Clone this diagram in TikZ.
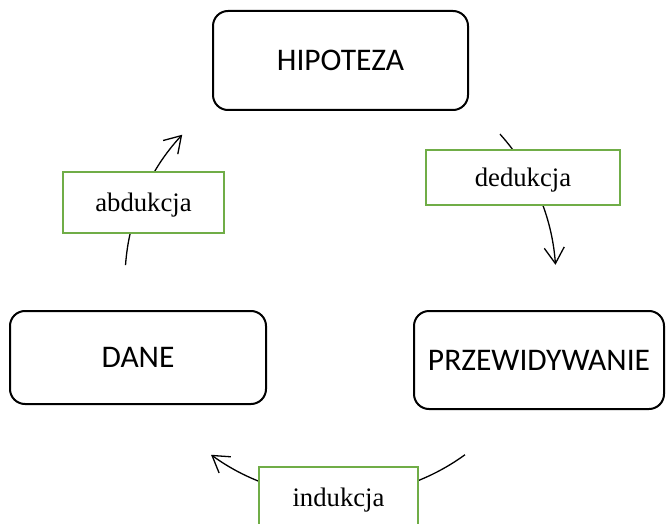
\documentclass[tikz,border=0pt]{standalone}
\usepackage{fontspec}
\setmainfont{Liberation Serif}
\newfontfamily\boxfont{Carlito}
\usetikzlibrary{arrows.meta}
\begin{document}
\begin{tikzpicture}[x=1pt,y=-1pt,
  mainbox/.style={draw=black,line width=2pt,rounded corners=15pt,fill=white,
    minimum width=#1,inner sep=0pt,font=\boxfont\fontsize{31.5}{34}\selectfont},
  labelbox/.style={draw=lgreen,line width=2.5pt,fill=white,inner sep=0pt,text depth=0pt,
    font=\fontsize{26.7}{30}\selectfont},
  cyc/.style={line width=1.3pt,-{Straight Barb[length=16pt,width=20pt,line width=1.3pt]}}]
\definecolor{lgreen}{RGB}{112,173,71}
\useasboundingbox (0,0) rectangle (666,524);
\coordinate (c) at (338,280);
% cycle arcs
\coordinate (d1) at ([shift={(-42:218)}]c);
\coordinate (a1) at ([shift={(-176:213)}]c);
\coordinate (i1) at ([shift={(54:216)}]c);
\draw[cyc] (d1) arc[start angle=-42,end angle=-4,radius=218];
\draw[cyc] (a1) arc[start angle=-176,end angle=-137,radius=213];
\draw[cyc] (i1) arc[start angle=54,end angle=126,radius=216];
% main boxes
\node[mainbox=255pt,minimum height=99pt] (hip) at (340.5,60.5) {HIPOTEZA};
\node[mainbox=256pt,minimum height=93pt] (dane) at (138,357.5) {DANE};
\node[mainbox=250pt,minimum height=98pt] (prz) at (539,360) {PRZEWIDYWANIE};
% labels
\node[labelbox,minimum width=194pt,minimum height=55pt] (ded) at (523,177.5) {dedukcja};
\node[labelbox,minimum width=161pt,minimum height=61pt] (abd) at (143.5,202.5) {abdukcja};
\node[labelbox,minimum width=159pt,minimum height=60pt] (ind) at (338.5,497) {indukcja};
\end{tikzpicture}
\end{document}
